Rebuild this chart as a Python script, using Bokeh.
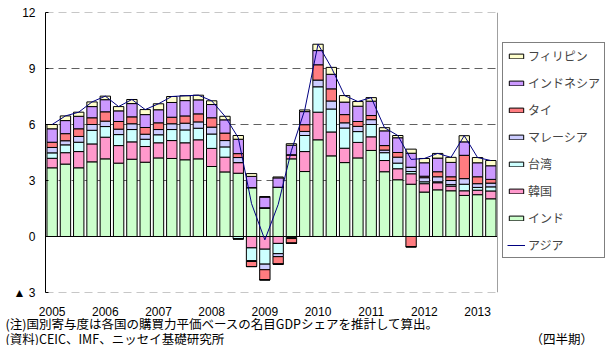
from bokeh.plotting import figure
from bokeh.models import Legend, LegendItem, Span, Title, FixedTicker, Range1d, ColumnDataSource
from bokeh.embed import file_html
from bokeh.resources import INLINE

# ---------------- data ----------------
quarters = list(range(34))  # 2005Q1 .. 2013Q2
year_ticks = [0, 4, 8, 12, 16, 20, 24, 28, 32]
year_labels = ["2005", "2006", "2007", "2008", "2009", "2010", "2011", "2012", "2013"]
y_ticks = [-3, 0, 3, 6, 9, 12]
y_tick_labels = ["▲ 3", "0", "3", "6", "9", "12"]

india = [3.68, 3.88, 3.68, 4.00, 4.16, 3.93, 4.14, 3.98, 4.21, 4.18, 4.11, 4.16,
         3.75, 3.46, 3.39, 2.62, 1.54, 2.64, 4.16, 3.48, 5.18, 4.32, 3.96, 4.21,
         4.61, 3.47, 3.04, 2.80, 2.38, 2.50, 2.45, 2.20, 2.24, 2.02]
korea = [0.51, 0.61, 0.87, 0.96, 1.16, 0.94, 0.93, 0.84, 0.81, 0.96, 0.91, 1.02,
         0.97, 0.79, 0.57, -0.61, -0.68, -0.37, 0.22, 1.07, 1.48, 1.28, 0.77, 0.83,
         0.73, 0.60, 0.59, 0.56, 0.45, 0.38, 0.25, 0.25, 0.24, 0.42]
taiwan = [0.29, 0.42, 0.50, 0.73, 0.57, 0.59, 0.66, 0.39, 0.43, 0.59, 0.69, 0.62,
          0.77, 0.55, -0.12, -0.68, -0.80, -0.55, -0.06, 0.86, 1.36, 1.23, 1.08, 0.58,
          0.66, 0.42, 0.30, 0.12, 0.10, 0.05, 0.08, 0.35, 0.15, 0.22]
malaysia = [0.29, 0.22, 0.31, 0.31, 0.29, 0.29, 0.31, 0.27, 0.28, 0.31, 0.36, 0.34,
            0.37, 0.34, 0.27, -0.05, -0.30, -0.16, -0.05, 0.22, 0.36, 0.43, 0.28, 0.28,
            0.26, 0.14, 0.32, 0.23, 0.22, 0.27, 0.22, 0.30, 0.20, 0.20]
thai = [0.28, 0.38, 0.41, 0.36, 0.50, 0.41, 0.37, 0.36, 0.36, 0.35, 0.39, 0.43,
        0.50, 0.40, 0.21, -0.27, -0.54, -0.40, -0.25, 0.36, 0.82, 0.65, 0.44, 0.26,
        0.22, 0.24, 0.25, -0.55, 0.08, 0.27, 0.20, 1.25, 0.37, 0.20]
indonesia = [0.72, 0.70, 0.67, 0.60, 0.65, 0.57, 0.71, 0.69, 0.70, 0.79, 0.82, 0.75,
             0.71, 0.71, 0.77, 0.60, 0.57, 0.50, 0.51, 0.70, 0.76, 0.78, 0.67, 0.82,
             0.77, 0.79, 0.79, 0.75, 0.72, 0.73, 0.77, 0.72, 0.75, 0.73]
philippines = [0.23, 0.25, 0.22, 0.25, 0.19, 0.23, 0.22, 0.27, 0.32, 0.32, 0.26, 0.25,
               0.20, 0.19, 0.20, 0.15, 0.03, 0.05, 0.08, 0.09, 0.34, 0.37, 0.35, 0.25,
               0.19, 0.17, 0.12, 0.22, 0.23, 0.25, 0.27, 0.33, 0.28, 0.28]
asia = [6.00, 6.46, 6.66, 7.21, 7.52, 6.96, 7.34, 6.80, 7.11, 7.50, 7.54, 7.57,
        7.27, 6.44, 5.29, 1.76, -0.18, 1.71, 4.61, 6.78, 10.30, 9.06, 7.55, 7.23,
        7.44, 5.83, 5.41, 4.13, 4.18, 4.45, 4.24, 5.40, 4.23, 4.07]

names = ["インド", "韓国", "台湾", "マレーシア", "タイ", "インドネシア", "フィリピン"]
values = [india, korea, taiwan, malaysia, thai, indonesia, philippines]
colors = ["#CCFFCC", "#FF99CC", "#CCFFFF", "#CCCCFF", "#FF7C80", "#CC99FF", "#FFFFCC"]

note1 = "(注)国別寄与度は各国の購買力平価ベースの名目GDPシェアを推計して算出。"
note2 = "(資料)CEIC、IMF、ニッセイ基礎研究所"
note3 = "（四半期）"

# ---------------- figure ----------------
JP = "Noto Sans CJK JP"
NUM = "Liberation Sans"

n = len(quarters)
x0, x1 = -0.5, n - 0.5
px_per_q = 452 / n
frame_w = 564
p = figure(frame_width=frame_w, frame_height=280,
           x_range=Range1d(x0, x0 + frame_w / px_per_q), y_range=Range1d(-3, 12),
           output_backend="svg", toolbar_location=None,
           min_border_left=45, min_border_right=0, min_border_top=12, min_border_bottom=0)
p.outline_line_color = None
p.xgrid.visible = False
p.ygrid.visible = False
p.background_fill_color = "white"

data = {"x": quarters}
pos_keys, neg_keys = [], []
for k, vals in enumerate(values):
    data[f"p{k}"] = [max(v, 0.0) for v in vals]
    data[f"n{k}"] = [min(v, 0.0) for v in vals]
    pos_keys.append(f"p{k}")
    neg_keys.append(f"n{k}")
src = ColumnDataSource(data)

# dashed grid lines limited to the plot area
g_dark = [t for t in y_ticks if t in (3, 6, 9)]
g_light = [t for t in y_ticks if t in (-3, 12)]
p.segment(x0=[x0] * len(g_dark), y0=g_dark, x1=[x1] * len(g_dark), y1=g_dark,
          line_color="#606060", line_dash="8 5", line_width=1)
p.segment(x0=[x0] * len(g_light), y0=g_light, x1=[x1] * len(g_light), y1=g_light,
          line_color="#909090", line_dash="8 5", line_width=1)
p.add_layout(Span(location=x1, dimension="height", line_color="#A0A0A0", line_width=1))

pos_r = p.vbar_stack(pos_keys, x="x", width=0.78, source=src, fill_color=colors,
                     line_color="black", line_width=1)
neg_r = p.vbar_stack(neg_keys, x="x", width=0.78, source=src, fill_color=colors,
                     line_color="black", line_width=1)

p.segment(x0=[x0], y0=[0], x1=[x1], y1=[0], line_color="black", line_width=1)

line_r = p.line(quarters, asia, line_color="#000080", line_width=1)

# axes
yax = p.yaxis[0]
yax.ticker = FixedTicker(ticks=y_ticks)
yax.major_label_overrides = {t: l for t, l in zip(y_ticks, y_tick_labels)}
yax.minor_tick_line_color = None
yax.major_tick_in = 3
yax.major_tick_out = 0
yax.axis_line_color = "black"
yax.major_tick_line_color = "black"
yax.major_label_standoff = 10
yax.major_label_text_font = NUM
yax.major_label_text_font_size = "12px"
yax.major_label_text_color = "black"

xax = p.xaxis[0]
xax.ticker = FixedTicker(ticks=year_ticks)
xax.major_label_overrides = {t: l for t, l in zip(year_ticks, year_labels)}
xax.axis_line_color = None
xax.major_tick_line_color = None
xax.minor_tick_line_color = None
xax.major_label_standoff = 8
xax.major_label_text_font = NUM
xax.major_label_text_font_size = "12px"
xax.major_label_text_color = "black"

# legend
order = [6, 5, 4, 3, 2, 1, 0]
items = [LegendItem(label=names[k], renderers=[pos_r[k]]) for k in order]
items.append(LegendItem(label="アジア", renderers=[line_r]))
legend = Legend(items=items, location=(457, 34), label_text_font=JP,
                label_text_font_size="12px", glyph_width=18, glyph_height=6,
                label_height=14, spacing=10, padding=4, margin=0,
                border_line_color="black", border_line_width=1, label_standoff=3,
                background_fill_color="white", background_fill_alpha=1.0)
p.add_layout(legend)

# notes below the axis (two lines in one title)
notes = Title(text=note1 + "\n" + note2 + "\u3000" * 25 + note3,
              align="left", offset=-40, standoff=-10, vertical_align="top",
              text_line_height=0.83,
              text_font=JP, text_font_size="12.5px", text_font_style="normal",
              text_color="black")
p.add_layout(notes, "below")

open("out.html", "w").write(file_html(p, INLINE))
